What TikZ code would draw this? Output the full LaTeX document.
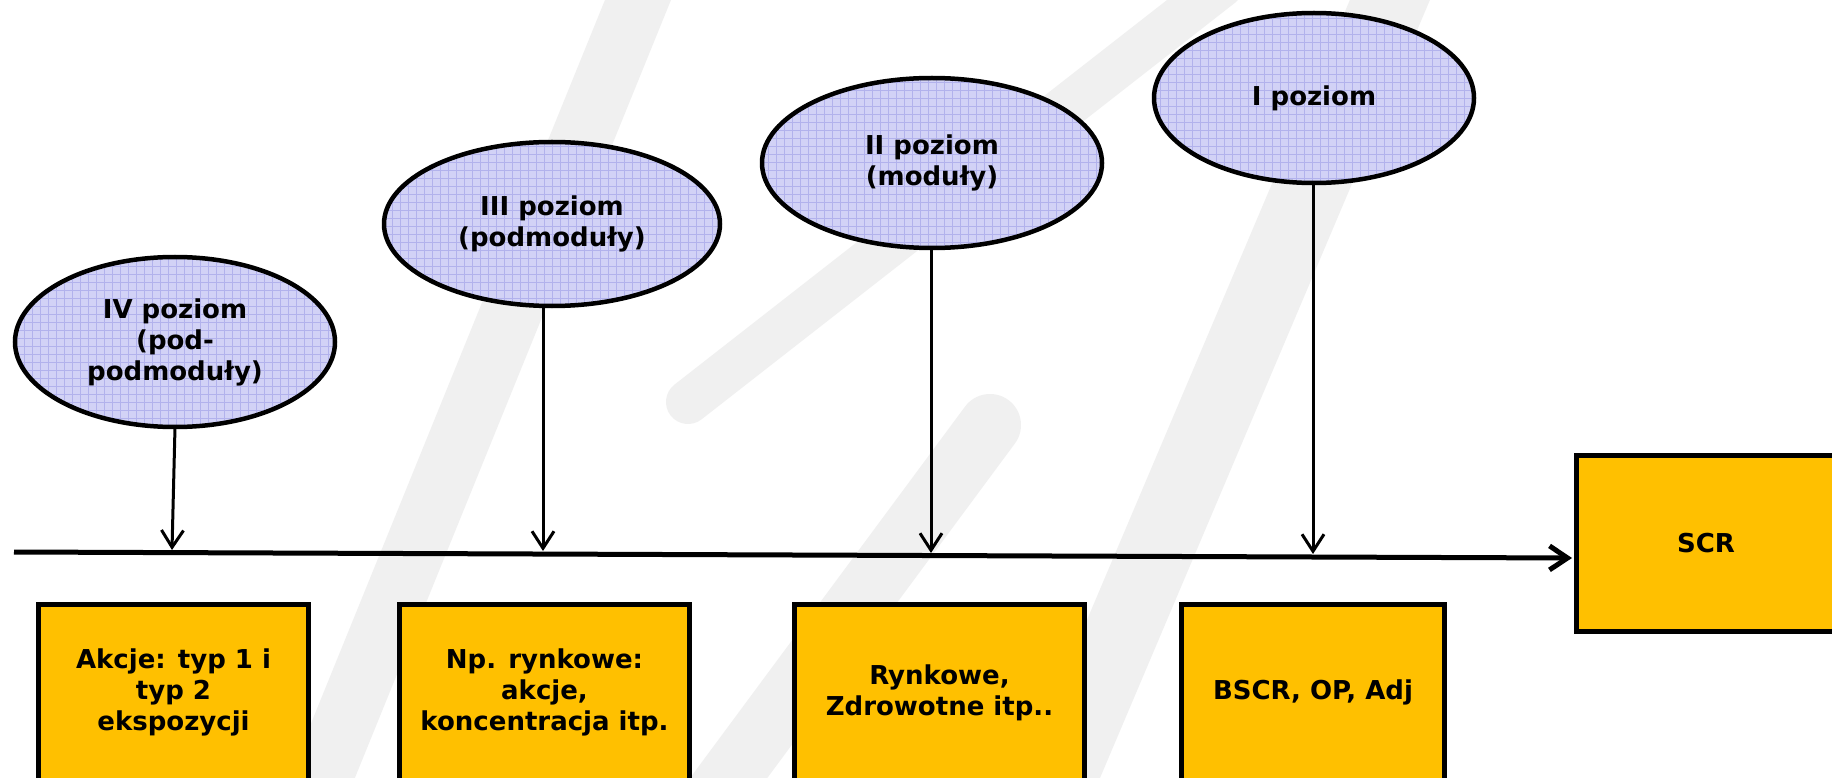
\documentclass[tikz,border=0pt]{standalone}
\usepackage{fontspec}
\setmainfont{DejaVu Sans}
\usetikzlibrary{arrows.meta,patterns.meta,shapes.geometric}
\definecolor{wm}{HTML}{F0F0F0}
\definecolor{ellfill}{HTML}{D2D2F6}
\definecolor{gridc}{HTML}{B2B2EC}
\definecolor{boxfill}{HTML}{FFC000}
\begin{document}
\begin{tikzpicture}[x=1pt,y=-1pt,
  lvl/.style={ellipse, draw=black, line width=4.5pt, preaction={fill=ellfill},
    pattern={Hatch[angle=0,distance=8pt,line width=0.7pt]}, pattern color=gridc,
    align=center, font=\fontsize{26}{31}\selectfont\bfseries, inner sep=0pt},
  cat/.style={rectangle, draw=black, line width=5pt, fill=boxfill, align=center,
    font=\fontsize{26}{31}\selectfont\bfseries, inner sep=0pt},
  drop/.style={-{Straight Barb[length=17pt,width=22pt,line width=3pt]}, line width=3pt},
  axis/.style={-{Straight Barb[length=18pt,width=24pt,line width=5pt]}, line width=5pt},
  wmfill/.style={fill=wm},
  wmstroke/.style={draw=wm, line cap=round}
]
\useasboundingbox (0,0) rectangle (1832,778);
\clip (0,0) rectangle (1832,778);
\fill[white] (0,0) rectangle (1832,778);
% watermark
\fill[wmfill] (607,-5) -- (673,-5) -- (352,785) -- (286,785) -- cycle;
\draw[wmstroke, line width=44pt] (688,402) -- (1222,-15);
\draw[wmstroke, line width=62pt] (990,425) -- (705,810);
\fill[wmfill] (1352,-5) -- (1432,-5) -- (1097,785) -- (1017,785) -- cycle;
% level ellipses
\node[lvl, minimum width=320pt, minimum height=170pt] (e4) at (175,342) {IV poziom\\(pod-\\podmoduły)};
\node[lvl, minimum width=336pt, minimum height=164pt] (e3) at (552,224) {III poziom\\(podmoduły)};
\node[lvl, minimum width=340pt, minimum height=170pt] (e2) at (932,163) {II poziom\\(moduły)};
\node[lvl, minimum width=320pt, minimum height=170pt] (e1) at (1314,98) {I poziom};
% boxes
\node[cat, minimum width=270pt, minimum height=176.5pt] (b4) at (173.5,692.75) {Akcje: typ 1 i\\typ 2\\ekspozycji};
\node[cat, minimum width=290pt, minimum height=176.5pt] (b3) at (544.5,692.75) {Np. rynkowe:\\akcje,\\koncentracja itp.};
\node[cat, minimum width=290pt, minimum height=176.5pt] (b2) at (939.5,692.75) {Rynkowe,\\Zdrowotne itp..};
\node[cat, minimum width=263pt, minimum height=176.5pt] (b1) at (1313,692.75) {BSCR, OP, Adj};
\node[cat, minimum width=259pt, minimum height=176pt] (scr) at (1706,543.5) {SCR};
% axis
\coordinate (m0) at (14,552);
\coordinate (m1) at (1572,558);
\draw[axis] (m0) -- (m1);
% drops
\coordinate (a4) at (172,550);
\coordinate (a3) at (543,551);
\coordinate (a2) at (931,553);
\coordinate (a1) at (1313,554);
\draw[drop] (e4.south) -- (a4);
\draw[drop] (a3 |- e3.south) -- (a3);
\draw[drop] (a2 |- e2.south) -- (a2);
\draw[drop] (a1 |- e1.south) -- (a1);
\end{tikzpicture}
\end{document}
